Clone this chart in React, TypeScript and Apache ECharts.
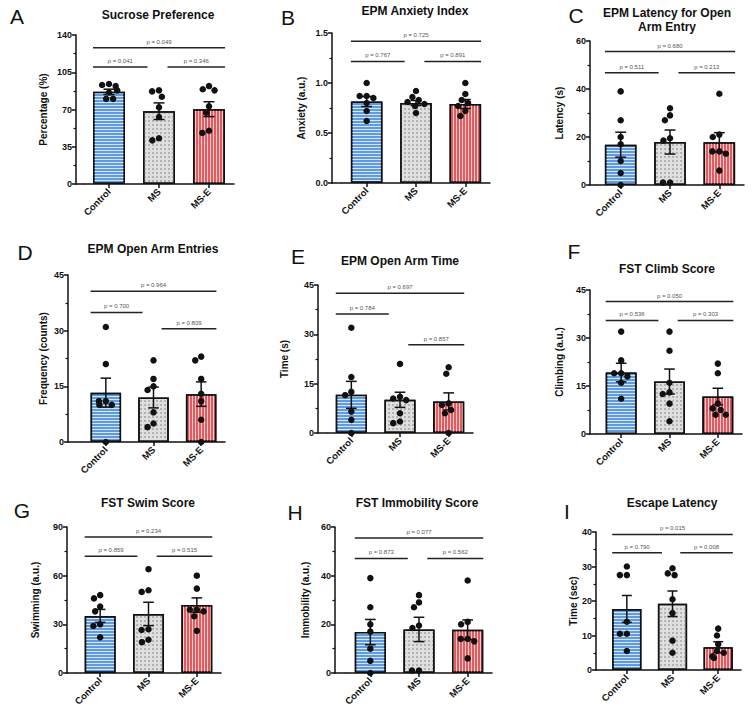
import React, { useEffect, useRef } from 'react';
import * as echarts from 'echarts';

const categories = ['Control', 'MS', 'MS-E'];

// A: Sucrose Preference
const sucroseMean = [86.6, 68.4, 70.3];
const sucroseSem = [2.5, 7.8, 7.0];
const sucrosePoints = [
  [94, 93, 92, 88, 86, 80, 80],
  [88, 87, 82, 72, 63, 43, 41],
  [92, 89, 88, 73, 67, 50, 48],
];
const sucroseBracketY = [128, 110, 110];
const sucroseP = ['p = 0.049', 'p = 0.041', 'p = 0.346'];

// B: EPM Anxiety Index
const anxietyMean = [0.815, 0.8, 0.79];
const anxietySem = [0.05, 0.025, 0.045];
const anxietyPoints = [
  [1.0, 0.87, 0.87, 0.85, 0.8, 0.72, 0.62],
  [0.92, 0.86, 0.83, 0.81, 0.79, 0.77, 0.7],
  [1.0, 0.89, 0.83, 0.8, 0.77, 0.72, 0.67],
];
const anxietyBracketY = [1.417, 1.216, 1.216];
const anxietyP = ['p = 0.725', 'p = 0.767', 'p = 0.891'];

// C: EPM Latency for Open Arm Entry
const latencyMean = [16.8, 17.9, 17.8];
const latencySem = [5.2, 5.0, 4.0];
const latencyPoints = [
  [39, 27, 20, 17, 10, 5, 0],
  [32, 29, 27, 19.5, 18.5, 1, 1],
  [38, 21, 20, 14, 14, 13, 6],
];
const latencyBracketY = [55.6, 46.8, 46.8];
const latencyP = ['p = 0.680', 'p = 0.511', 'p = 0.213'];

// D: EPM Open Arm Entries
const entriesMean = [13.3, 12.0, 12.9];
const entriesSem = [3.9, 2.8, 3.3];
const entriesPoints = [
  [31, 21, 11, 11, 10, 10, 0],
  [22, 17, 15, 14, 8, 5, 4],
  [23, 22, 17, 13, 11, 6, 0],
];
const entriesBracketY = [40.6, 34.9, 30.5];
const entriesP = ['p = 0.964', 'p = 0.700', 'p = 0.809'];

// E: EPM Open Arm Time
const armTimeMean = [11.6, 10.1, 9.6];
const armTimeSem = [4.1, 2.3, 2.6];
const armTimePoints = [
  [32, 17, 12.5, 11.5, 6.5, 4, 0],
  [21, 11, 10.5, 10, 6, 3.5, 3],
  [20, 18, 9, 8.5, 7, 6, 0],
];
const armTimeBracketY = [42.5, 36.2, 26.8];
const armTimeP = ['p = 0.697', 'p = 0.784', 'p = 0.857'];

// F: FST Climb Score
const climbMean = [19.2, 16.4, 11.7];
const climbSem = [2.9, 3.9, 2.6];
const climbPoints = [
  [32, 23, 19, 19, 18, 16, 11],
  [32, 26, 16, 13, 12.5, 9.5, 4],
  [22, 19, 9.5, 8, 7.5, 6, 6],
];
const climbBracketY = [41.4, 35.5, 35.5];
const climbP = ['p = 0.050', 'p = 0.536', 'p = 0.303'];

// G: FST Swim Score
const swimMean = [35.2, 36.4, 41.9];
const swimSem = [4.0, 7.2, 4.4];
const swimPoints = [
  [48, 46, 41, 38, 30, 29, 22],
  [64, 51, 50, 27, 26.5, 20.5, 19],
  [60, 52, 39, 39, 38, 35, 26],
];
const swimBracketY = [83.8, 72, 72];
const swimP = ['p = 0.234', 'p = 0.859', 'p = 0.515'];

// H: FST Immobility Score
const immobMean = [16.8, 17.9, 17.8];
const immobSem = [5.2, 5.0, 4.0];
const immobPoints = [
  [39, 27, 20, 17, 10, 5, 0],
  [32, 29, 27, 19.5, 18.5, 1, 1],
  [38, 21, 20, 14, 14, 13, 6],
];
const immobBracketY = [55.5, 47.1, 47.1];
const immobP = ['p = 0.077', 'p = 0.873', 'p = 0.562'];

// I: Escape Latency
const escapeMean = [17.7, 19.2, 6.6];
const escapeSem = [3.9, 3.7, 1.6];
const escapePoints = [
  [30, 27.5, 27.5, 14, 10.5, 10.5, 5.5],
  [29.5, 28, 27.5, 20.5, 16.5, 8.5, 5],
  [12, 10, 7.5, 5.5, 5, 4, 3.5],
];
const escapeBracketY = [39.3, 34.0, 34.0];
const escapeP = ['p = 0.015', 'p = 0.790', 'p = 0.008'];

const FONT = '"Liberation Sans", Arial, Helvetica, sans-serif';

type Panel = {
  letter: string;
  letterPos: [number, number];
  title: string[];
  titlePos: [number, number];
  yName: string;
  nameGap: number;
  max: number;
  interval: number;
  decimals: number;
  means: number[];
  sem: number[];
  points: number[][];
  bracketY: number[];
  pValues: string[];
  grid: { left: number; top: number; width: number; height: number };
  yOffset: number;
};

const panels: Panel[] = [
  { letter: 'A', letterPos: [17, 16], title: ['Sucrose Preference'], titlePos: [158, 15], yName: 'Percentage (%)', nameGap: 28, max: 140, interval: 35, decimals: 0, means: sucroseMean, sem: sucroseSem, points: sucrosePoints, bracketY: sucroseBracketY, pValues: sucroseP, grid: { left: 84, top: 35, width: 150, height: 149 }, yOffset: 8 },
  { letter: 'B', letterPos: [288, 17], title: ['EPM Anxiety Index'], titlePos: [415, 11], yName: 'Anxiety (a.u.)', nameGap: 26, max: 1.5, interval: 0.5, decimals: 1, means: anxietyMean, sem: anxietySem, points: anxietyPoints, bracketY: anxietyBracketY, pValues: anxietyP, grid: { left: 342, top: 33, width: 148, height: 150 }, yOffset: 10 },
  { letter: 'C', letterPos: [576, 15], title: ['EPM Latency for Open', 'Arm Entry'], titlePos: [667, 13], yName: 'Latency (s)', nameGap: 26, max: 60, interval: 20, decimals: 0, means: latencyMean, sem: latencySem, points: latencyPoints, bracketY: latencyBracketY, pValues: latencyP, grid: { left: 596, top: 41, width: 148, height: 144 }, yOffset: 6 },
  { letter: 'D', letterPos: [25, 252], title: ['EPM Open Arm Entries'], titlePos: [153, 249], yName: 'Frequency (counts)', nameGap: 20, max: 45, interval: 15, decimals: 0, means: entriesMean, sem: entriesSem, points: entriesPoints, bracketY: entriesBracketY, pValues: entriesP, grid: { left: 82, top: 275, width: 143, height: 167 }, yOffset: 14 },
  { letter: 'E', letterPos: [298, 256], title: ['EPM Open Arm Time'], titlePos: [400, 261], yName: 'Time (s)', nameGap: 29, max: 45, interval: 15, decimals: 0, means: armTimeMean, sem: armTimeSem, points: armTimePoints, bracketY: armTimeBracketY, pValues: armTimeP, grid: { left: 327, top: 285, width: 146, height: 148 }, yOffset: 9 },
  { letter: 'F', letterPos: [574, 251], title: ['FST Climb Score'], titlePos: [667, 269], yName: 'Climbing (a.u.)', nameGap: 26, max: 45, interval: 15, decimals: 0, means: climbMean, sem: climbSem, points: climbPoints, bracketY: climbBracketY, pValues: climbP, grid: { left: 597, top: 290, width: 145, height: 144 }, yOffset: 7 },
  { letter: 'G', letterPos: [22, 510], title: ['FST Swim Score'], titlePos: [148, 503], yName: 'Swimming (a.u.)', nameGap: 27, max: 90, interval: 30, decimals: 0, means: swimMean, sem: swimSem, points: swimPoints, bracketY: swimBracketY, pValues: swimP, grid: { left: 76, top: 527, width: 145, height: 146 }, yOffset: 9 },
  { letter: 'H', letterPos: [295, 512], title: ['FST Immobility Score'], titlePos: [417, 503], yName: 'Immobility (a.u.)', nameGap: 25, max: 60, interval: 20, decimals: 0, means: immobMean, sem: immobSem, points: immobPoints, bracketY: immobBracketY, pValues: immobP, grid: { left: 346, top: 527, width: 146, height: 146 }, yOffset: 11 },
  { letter: 'I', letterPos: [567, 511], title: ['Escape Latency'], titlePos: [672, 503], yName: 'Time (sec)', nameGap: 18, max: 40, interval: 10, decimals: 0, means: escapeMean, sem: escapeSem, points: escapePoints, bracketY: escapeBracketY, pValues: escapeP, grid: { left: 604, top: 532, width: 137, height: 138 }, yOffset: 8 },
];

const barStyles = [
  {
    color: '#5f9be0',
    borderColor: '#111',
    borderWidth: 1.5,
    decal: { symbol: 'rect', symbolSize: 1, dashArrayX: [1, 0], dashArrayY: [1, 2], color: 'rgba(255,255,255,0.75)', rotation: 0 },
  },
  {
    color: '#dedede',
    borderColor: '#111',
    borderWidth: 1.5,
    decal: { symbol: 'circle', symbolSize: 0.8, dashArrayX: [1.5, 1.5], dashArrayY: [1.5, 1.5], color: '#9a9a9a', rotation: 0 },
  },
  {
    color: '#e35a5f',
    borderColor: '#111',
    borderWidth: 1.5,
    decal: { symbol: 'rect', symbolSize: 1, dashArrayX: [1, 2], dashArrayY: [1, 0], color: 'rgba(255,255,255,0.7)', rotation: 0 },
  },
];

const INK = '#111';

function buildOption() {
  const grid: any[] = [];
  const xAxis: any[] = [];
  const yAxis: any[] = [];
  const series: any[] = [];
  const graphic: any[] = [];

  panels.forEach((p, i) => {
    grid.push({ ...p.grid, containLabel: false });
    xAxis.push({
      gridIndex: i,
      type: 'category',
      data: categories,
      boundaryGap: true,
      jitter: 18,
      jitterOverlap: false,
      jitterMargin: 0.5,
      axisLine: { show: true, lineStyle: { color: INK, width: 1.5 } },
      axisTick: { show: true, alignWithLabel: true, length: 4, lineStyle: { color: INK, width: 1.5 } },
      axisLabel: { interval: 0, rotate: 45, fontSize: 9.5, fontWeight: 'bold', color: INK, fontFamily: FONT, margin: 6 },
      splitLine: { show: false },
    });
    yAxis.push({
      gridIndex: i,
      type: 'value',
      min: 0,
      max: p.max,
      interval: p.interval,
      offset: p.yOffset,
      name: p.yName,
      nameLocation: 'middle',
      nameGap: p.nameGap,
      nameTextStyle: { fontSize: 10, fontWeight: 'bold', color: INK, fontFamily: FONT },
      axisLine: { show: true, lineStyle: { color: INK, width: 1.5 } },
      axisTick: { show: true, length: 4, lineStyle: { color: INK, width: 1.5 } },
      minorTick: { show: true, splitNumber: 2, length: 2.5, lineStyle: { color: INK, width: 1.2 } },
      splitLine: { show: false },
      minorSplitLine: { show: false },
      axisLabel: {
        fontSize: 9,
        fontWeight: 'bold',
        color: INK,
        fontFamily: FONT,
        margin: 4,
        formatter: (v: number) => v.toFixed(p.decimals),
      },
    });

    // bars
    series.push({
      type: 'bar',
      xAxisIndex: i,
      yAxisIndex: i,
      barWidth: '64%',
      z: 2,
      data: p.means.map((v, j) => ({ value: v, itemStyle: barStyles[j] })),
    });

    // error bars (SEM)
    series.push({
      type: 'custom',
      xAxisIndex: i,
      yAxisIndex: i,
      z: 3,
      encode: { x: 0, y: 1 },
      data: p.means.map((m, j) => [j, m, p.sem[j]]),
      renderItem: (params: any, api: any) => {
        const x = api.value(0);
        const m = api.value(1);
        const s = api.value(2);
        const top = api.coord([x, m + s]);
        const bot = api.coord([x, m - s]);
        const band = api.size([1, 0])[0];
        const hw = band * 0.11;
        const st = { stroke: INK, lineWidth: 1.5 };
        return {
          type: 'group',
          children: [
            { type: 'line', shape: { x1: top[0], y1: top[1], x2: bot[0], y2: bot[1] }, style: st },
            { type: 'line', shape: { x1: top[0] - hw, y1: top[1], x2: top[0] + hw, y2: top[1] }, style: st },
            { type: 'line', shape: { x1: bot[0] - hw, y1: bot[1], x2: bot[0] + hw, y2: bot[1] }, style: st },
          ],
        };
      },
    });

    // individual points
    const pts: any[] = [];
    p.points.forEach((arr, j) => arr.forEach((v) => pts.push([j, v])));
    series.push({
      type: 'scatter',
      xAxisIndex: i,
      yAxisIndex: i,
      z: 4,
      symbolSize: 6.5,
      itemStyle: { color: INK, opacity: 1 },
      data: pts,
    });

    // significance brackets
    series.push({
      type: 'custom',
      xAxisIndex: i,
      yAxisIndex: i,
      z: 5,
      encode: { x: 0, y: 1 },
      data: p.bracketY.map((y, k) => [k, y]),
      renderItem: (params: any, api: any) => {
        const k = params.dataIndex;
        const y = api.value(1);
        const band = api.size([1, 0])[0];
        const c0 = api.coord([0, y]);
        const c1 = api.coord([1, y]);
        const c2 = api.coord([2, y]);
        let x1: number;
        let x2: number;
        if (k === 0) {
          x1 = c0[0] - 0.32 * band;
          x2 = c2[0] + 0.32 * band;
        } else if (k === 1) {
          x1 = c0[0] - 0.32 * band;
          x2 = c1[0] - 0.23 * band;
        } else {
          x1 = c1[0] + 0.17 * band;
          x2 = c2[0] + 0.32 * band;
        }
        return {
          type: 'group',
          children: [
            { type: 'line', shape: { x1, y1: c0[1], x2, y2: c0[1] }, style: { stroke: '#222', lineWidth: 1.5 } },
            {
              type: 'text',
              x: (x1 + x2) / 2,
              y: c0[1] - 3,
              style: { text: p.pValues[k], fill: '#555', font: `6px ${FONT}`, align: 'center', verticalAlign: 'bottom' },
            },
          ],
        };
      },
    });

    // extend x axis line to the offset y axis
    const bottom = p.grid.top + p.grid.height;
    graphic.push({
      type: 'line',
      shape: { x1: p.grid.left - p.yOffset - 0.75, y1: bottom, x2: p.grid.left, y2: bottom },
      style: { stroke: INK, lineWidth: 1.5 },
      z: 10,
    });

    // panel letter
    graphic.push({
      type: 'text',
      x: p.letterPos[0],
      y: p.letterPos[1],
      style: { text: p.letter, font: `21px ${FONT}`, fill: INK, align: 'center', verticalAlign: 'middle' },
    });

    // title
    p.title.forEach((t, k) => {
      graphic.push({
        type: 'text',
        x: p.titlePos[0],
        y: p.titlePos[1] + k * 14,
        style: { text: t, font: `bold 12px ${FONT}`, fill: INK, align: 'center', verticalAlign: 'middle' },
      });
    });
  });

  return {
    animation: false,
    backgroundColor: '#ffffff',
    grid,
    xAxis,
    yAxis,
    series,
    graphic,
  };
}

export default function App() {
  const ref = useRef<HTMLDivElement>(null);
  useEffect(() => {
    if (!ref.current) return;
    const chart = echarts.init(ref.current, undefined, { renderer: 'svg' });
    chart.setOption(buildOption() as any);
    return () => chart.dispose();
  }, []);
  return (
    <div
      ref={ref}
      style={{ position: 'fixed', left: 0, top: 0, width: 756, height: 715, background: '#fff' }}
    />
  );
}
